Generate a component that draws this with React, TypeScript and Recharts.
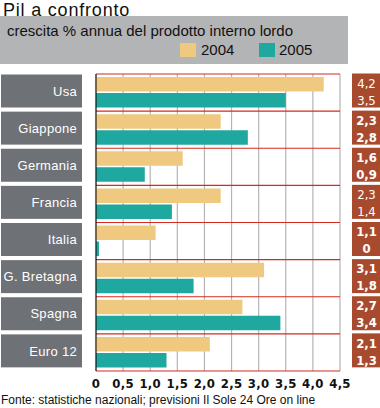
import { Bar, BarChart, CartesianGrid, XAxis, YAxis } from "recharts";

const categories = ["Usa", "Giappone", "Germania", "Francia", "Italia", "G. Bretagna", "Spagna", "Euro 12"];
const growth2004 = [4.2, 2.3, 1.6, 2.3, 1.1, 3.1, 2.7, 2.1];
const growth2005 = [3.5, 2.8, 0.9, 1.4, 0, 1.8, 3.4, 1.3];
const xTicks = [0, 0.5, 1, 1.5, 2, 2.5, 3, 3.5, 4, 4.5];

const data = categories.map((name, i) => ({
  name,
  y2004: growth2004[i],
  y2005: growth2005[i],
}));

const W = 380;
const H = 408;
const TOP = 74;
const X_AXIS_H = 37;
const BAND = (H - TOP - X_AXIS_H) / categories.length;

const TAN = "#f0c981";
const TEAL = "#1fa89f";
const SANS = "'Liberation Sans', Arial, sans-serif";
const NARROW = "'Liberation Sans Narrow', 'DejaVu Sans Condensed', sans-serif";

// rows whose values are printed in the thin face in the original
const THIN_ROWS = new Set(["Usa", "Francia"]);

const fmt = (v: number) => (v === 0 ? "0" : v.toFixed(1).replace(".", ","));
const fmtValue = (v: number) => String(v).replace(".", ",");

function CountryTick({ y, payload }: any) {
  const top = y - BAND / 2 + 0.5;
  return (
    <g>
      <rect x={1} y={top} width={81} height={33} fill="#6e7276" />
      <text
        x={77}
        y={top + 16.5}
        dy="0.36em"
        textAnchor="end"
        fill="#fff"
        fontSize={13}
        fontFamily={SANS}
        letterSpacing={0.3}
      >
        {payload.value}
      </text>
    </g>
  );
}

function ValueTick({ y, payload }: any) {
  const i = categories.indexOf(payload.value);
  const top = y - BAND / 2 - 0.5;
  const thin = THIN_ROWS.has(payload.value);
  const style = {
    fill: "#fff",
    fontFamily: NARROW,
    fontSize: 13,
    fontWeight: thin ? 400 : 700,
  } as const;
  return (
    <g>
      <rect x={352} y={top} width={28} height={34} fill="#a84a2e" />
      <text x={366.5} y={y - 9.5} dy="0.36em" textAnchor="middle" {...style}>
        {fmtValue(growth2004[i])}
      </text>
      <text x={366.5} y={y + 7.5} dy="0.36em" textAnchor="middle" {...style}>
        {fmtValue(growth2005[i])}
      </text>
    </g>
  );
}

export default function App() {
  return (
    <div
      style={{
        position: "absolute",
        left: 0,
        top: 0,
        width: W,
        height: H,
        background: "#fff",
        fontFamily: SANS,
        overflow: "hidden",
      }}
    >
      <div
        style={{
          position: "absolute",
          left: 3,
          top: 0,
          fontSize: 18,
          lineHeight: "21px",
          letterSpacing: 0.8,
          color: "#111",
        }}
      >
        Pil a confronto
      </div>
      <div style={{ position: "absolute", left: 0, top: 16, width: 348, height: 48, background: "#b3b4b6" }} />
      <div style={{ position: "absolute", left: 7, top: 22, fontSize: 15, lineHeight: "17px", color: "#111" }}>
        crescita % annua del prodotto interno lordo
      </div>
      <div style={{ position: "absolute", left: 180, top: 43, width: 16, height: 14, background: TAN }} />
      <div style={{ position: "absolute", left: 201, top: 41, fontSize: 15, lineHeight: "17px", color: "#111" }}>2004</div>
      <div style={{ position: "absolute", left: 259, top: 43, width: 16, height: 14, background: TEAL }} />
      <div style={{ position: "absolute", left: 279, top: 41, fontSize: 15, lineHeight: "17px", color: "#111" }}>2005</div>

      <div style={{ position: "absolute", left: 0, top: 0 }}>
        <BarChart
          width={W}
          height={H}
          data={data}
          layout="vertical"
          margin={{ top: TOP, right: 0, bottom: 0, left: 0 }}
          barSize={14.6}
          barGap={1.4}
        >
          <CartesianGrid horizontal={false} stroke="#b4b4b4" strokeWidth={1.2} />
          <CartesianGrid
            vertical={false}
            stroke="#d42a1f"
            strokeWidth={1.2}
            horizontalCoordinatesGenerator={({ offset }: any) =>
              categories.concat("").map((_, i) => offset.top + (i * offset.height) / categories.length)
            }
          />
          <XAxis
            type="number"
            domain={[0, 4.5]}
            ticks={xTicks}
            height={X_AXIS_H}
            axisLine={false}
            tickLine={false}
            tickFormatter={fmt}
            tick={{ fill: "#111", fontSize: 13, fontWeight: 700, fontFamily: NARROW, letterSpacing: 0.3 }}
          />
          <YAxis
            yAxisId="left"
            type="category"
            dataKey="name"
            width={96}
            axisLine={{ stroke: "#000", strokeWidth: 1 }}
            tickLine={false}
            tick={<CountryTick />}
          />
          <YAxis
            yAxisId="right"
            orientation="right"
            type="category"
            dataKey="name"
            width={40}
            axisLine={false}
            tickLine={false}
            tick={<ValueTick />}
          />
          <Bar yAxisId="left" dataKey="y2004" fill={TAN} minPointSize={3} isAnimationActive={false} />
          <Bar yAxisId="left" dataKey="y2005" fill={TEAL} minPointSize={3} isAnimationActive={false} />
        </BarChart>
      </div>

      <div style={{ position: "absolute", left: 1, top: 393, fontSize: 12, lineHeight: "14px", color: "#111" }}>
        Fonte: statistiche nazionali; previsioni Il Sole 24 Ore on line
      </div>
    </div>
  );
}
